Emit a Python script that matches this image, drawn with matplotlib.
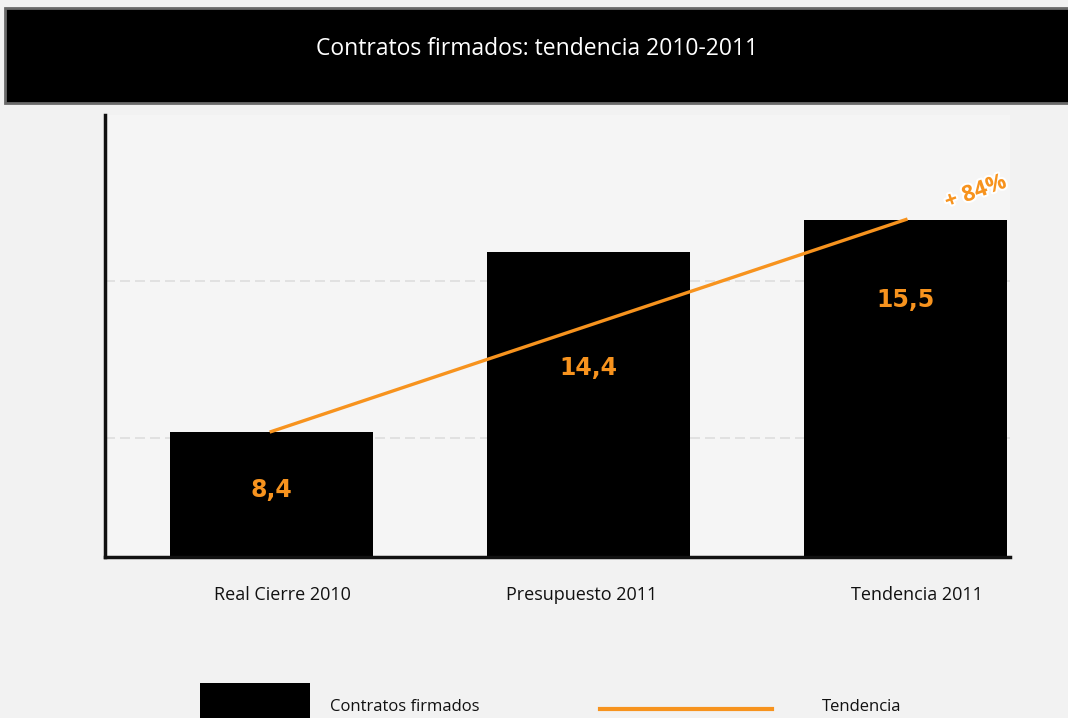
import numpy as np
import matplotlib.pyplot as plt
import matplotlib.patheffects as pe
from matplotlib.patches import Rectangle

plt.rcParams['font.family'] = ['Open Sans', 'DejaVu Sans']

categorias = ['Real Cierre 2010', 'Presupuesto 2011', 'Tendencia 2011']
valores = [8.4, 14.4, 15.5]
etiquetas = ['8,4', '14,4', '15,5']
tendencia_x = [0, 2]
tendencia_y = [8.4, 15.5]
variacion = '+ 84%'
titulo = 'Contratos firmados: tendencia 2010-2011'

naranja = '#f7931e'
fondo = '#f2f2f2'
# desplazamiento vertical de cada etiqueta dentro de su barra
desp_etiqueta = [1.96, 3.87, 2.70]
# desplazamiento horizontal (puntos) de los nombres de categoria
desp_cat = [8, -5, 8]

fig = plt.figure(figsize=(10.68, 7.18), dpi=100)
fig.patch.set_facecolor(fondo)

# banda de titulo
fig.patches.append(Rectangle((5/1068, 1-103/718), 1.0, 95/718, transform=fig.transFigure,
                             facecolor='black', edgecolor='#6a6a6a', linewidth=2))
fig.text(0.503, 1-49/718, titulo, color='white', fontsize=16.5, ha='center', va='center')

ax = fig.add_axes([105/1068, 1-557/718, 905/1068, 442/718])
ax.set_facecolor('#f5f5f5')
x = np.arange(len(categorias))
ax.bar(x, valores, width=0.64, color='black', zorder=2)
ax.plot(tendencia_x, tendencia_y, color=naranja, lw=2.4, zorder=3)

for xi, v, t, d in zip(x, valores, etiquetas, desp_etiqueta):
    ax.text(xi, v - d, t, color=naranja, fontsize=17, fontweight='bold',
            ha='center', va='center', zorder=4, family='DejaVu Sans')

ax.text(2.22, 16.4, variacion, color=naranja, fontsize=16, fontweight='bold', rotation=20,
        ha='center', va='center', zorder=4,
        path_effects=[pe.withStroke(linewidth=3, foreground='white')])

ax.set_xlim(-0.524, 2.328)
ax.set_ylim(4.2, 19.0)
ax.set_yticks([8.2, 13.45])
ax.yaxis.grid(True, color='#dddddd', lw=1.2, ls=(0, (6, 3)), zorder=0)
ax.tick_params(left=False, labelleft=False, bottom=False, labelbottom=False)
for s in ['top', 'right']:
    ax.spines[s].set_visible(False)
ax.spines['left'].set_linewidth(2.5)
ax.spines['bottom'].set_linewidth(2.5)
ax.spines['left'].set_color('#111111')
ax.spines['bottom'].set_color('#111111')

for xi, c, dx in zip(x, categorias, desp_cat):
    ax.annotate(c, (xi, 0), xycoords=('data', 'axes fraction'), xytext=(dx, -27),
                textcoords='offset points', ha='center', va='center', fontsize=13, color='#111111')

# leyenda
fig.patches.append(Rectangle((200/1068, 0), 110/1068, 35/718, transform=fig.transFigure,
                             facecolor='black', edgecolor='none'))
fig.text(330/1068, 1-707/718, 'Contratos firmados', fontsize=12, va='center', color='#111111')
fig.lines.append(plt.Line2D([600/1068, 772/1068], [1-709/718, 1-709/718], transform=fig.transFigure,
                            color=naranja, lw=3))
fig.text(822/1068, 1-707/718, 'Tendencia', fontsize=12, va='center', color='#111111')

fig.savefig('out.png', dpi=100, facecolor=fig.get_facecolor())
